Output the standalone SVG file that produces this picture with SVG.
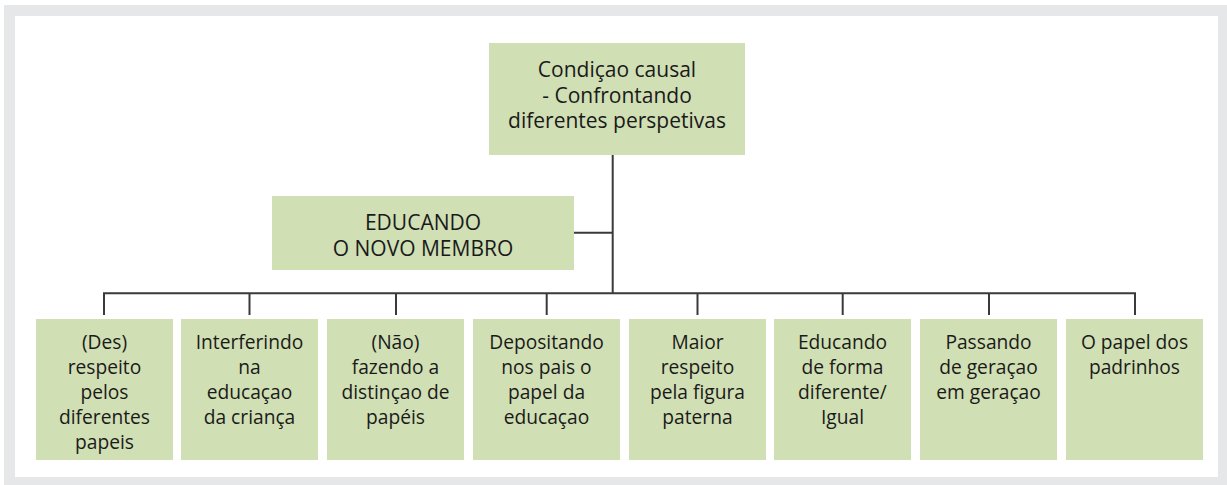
<svg xmlns="http://www.w3.org/2000/svg" width="1227" height="485" viewBox="0 0 1227 485">
<style>
.box{fill:#d1dfb4}
.t{font-family:"Open Sans","Liberation Sans",sans-serif;font-size:19.2px;fill:#1a1a1a;text-anchor:middle}
.h{font-size:21px}
.ln{stroke:#3a3a3a;stroke-width:2;fill:none}
</style>
<rect x="0" y="0" width="1227" height="485" fill="#ffffff"/>
<rect x="4" y="5" width="1223" height="480" fill="#e6e7e8"/>
<rect x="15" y="16" width="1203" height="461" fill="#ffffff"/>
<g id="connectors">
<path class="ln" d="M612.7 155 V293.3 M574 232.7 H612.7 M104 293.3 H1135.5 M104 292.3 V315 M249.5 292.3 V315 M396 292.3 V315 M546.7 292.3 V315 M697.5 292.3 V315 M842.7 292.3 V315 M989 292.3 V315 M1135 292.3 V315"/>
</g>
<g id="n0">
<rect class="box" x="489" y="43" width="256" height="112"/>
<text class="t h" x="617" y="77">Condiçao causal</text>
<text class="t h" x="617" y="102.5">- Confrontando</text>
<text class="t h" x="617" y="128">diferentes perspetivas</text>
</g>
<g id="n1">
<rect class="box" x="272" y="196" width="302" height="74"/>
<text class="t h" x="423" y="229.5">EDUCANDO</text>
<text class="t h" x="423" y="256">O NOVO MEMBRO</text>
</g>
<g id="b1">
<rect class="box" x="36" y="319" width="137" height="141"/>
<text class="t" x="104.5" y="348.5">(Des)</text>
<text class="t" x="104.5" y="373.5">respeito</text>
<text class="t" x="104.5" y="398.5">pelos</text>
<text class="t" x="104.5" y="423.5">diferentes</text>
<text class="t" x="104.5" y="448.5">papeis</text>
</g>
<g id="b2">
<rect class="box" x="181" y="319" width="137" height="141"/>
<text class="t" x="249.5" y="348.5">Interferindo</text>
<text class="t" x="249.5" y="373.5">na</text>
<text class="t" x="249.5" y="398.5">educaçao</text>
<text class="t" x="249.5" y="423.5">da criança</text>
</g>
<g id="b3">
<rect class="box" x="327" y="319" width="137" height="141"/>
<text class="t" x="395.5" y="348.5">(Não)</text>
<text class="t" x="395.5" y="373.5">fazendo a</text>
<text class="t" x="395.5" y="398.5">distinçao de</text>
<text class="t" x="395.5" y="423.5">papéis</text>
</g>
<g id="b4">
<rect class="box" x="473" y="319" width="147" height="141"/>
<text class="t" x="546.5" y="348.5">Depositando</text>
<text class="t" x="546.5" y="373.5">nos pais o</text>
<text class="t" x="546.5" y="398.5">papel da</text>
<text class="t" x="546.5" y="423.5">educaçao</text>
</g>
<g id="b5">
<rect class="box" x="629" y="319" width="137" height="141"/>
<text class="t" x="697.5" y="348.5">Maior</text>
<text class="t" x="697.5" y="373.5">respeito</text>
<text class="t" x="697.5" y="398.5">pela figura</text>
<text class="t" x="697.5" y="423.5">paterna</text>
</g>
<g id="b6">
<rect class="box" x="774" y="319" width="137" height="141"/>
<text class="t" x="842.5" y="348.5">Educando</text>
<text class="t" x="842.5" y="373.5">de forma</text>
<text class="t" x="842.5" y="398.5">diferente/</text>
<text class="t" x="842.5" y="423.5">Igual</text>
</g>
<g id="b7">
<rect class="box" x="920" y="319" width="137" height="141"/>
<text class="t" x="988.5" y="348.5">Passando</text>
<text class="t" x="988.5" y="373.5">de geraçao</text>
<text class="t" x="988.5" y="398.5">em geraçao</text>
</g>
<g id="b8">
<rect class="box" x="1066" y="319" width="137" height="141"/>
<text class="t" x="1134.5" y="348.5">O papel dos</text>
<text class="t" x="1134.5" y="373.5">padrinhos</text>
</g>
</svg>
